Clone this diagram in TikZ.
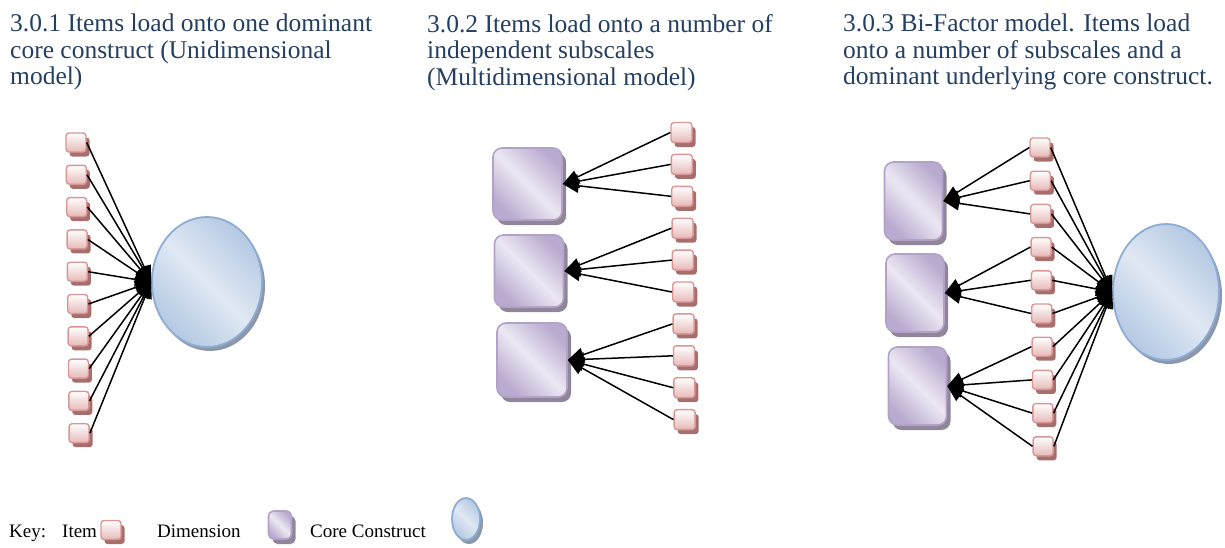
\documentclass[tikz,border=0pt]{standalone}
\usepackage{fontspec}
\setmainfont{Liberation Serif}
\usepackage{xcolor}
\usetikzlibrary{arrows.meta,positioning,shapes.geometric,shadows}
\definecolor{ttlblue}{HTML}{243F60}
\definecolor{itemline}{HTML}{D99694}
\definecolor{itemfill}{HTML}{E6B9B8}
\definecolor{itemshade}{HTML}{A66E6D}
\definecolor{dimline}{HTML}{B3A2C7}
\definecolor{dimdark}{HTML}{B9AACF}
\definecolor{dimlight}{HTML}{ECE8F2}
\definecolor{dimshade}{HTML}{918699}
\definecolor{coreline}{HTML}{8DADD5}
\definecolor{coredark}{HTML}{B4C9E3}
\definecolor{corelight}{HTML}{E0E8F3}
\definecolor{coreshade}{HTML}{8C97A8}
\tikzset{
  itembox/.style={draw=itemline, line width=1.4pt, rounded corners=3pt, minimum width=20pt, minimum height=19pt, inner sep=0pt, top color=white, bottom color=itemfill, drop shadow={shadow xshift=3.5pt, shadow yshift=-4.5pt, fill=itemshade, opacity=1}},
  dimbox/.style={draw=dimline, line width=1.6pt, rounded corners=9pt, inner sep=0pt, top color=dimdark, bottom color=dimdark, middle color=dimlight, shading angle=-45, drop shadow={shadow xshift=4pt, shadow yshift=-5pt, fill=dimshade, opacity=1}},
  corebox/.style={ellipse, draw=coreline, line width=1.8pt, inner sep=0pt, top color=coredark, bottom color=coredark, middle color=corelight, shading angle=-45, drop shadow={shadow xshift=3pt, shadow yshift=-4pt, fill=coreshade, opacity=1}},
  larr/.style={-{Triangle[length=16pt,width=14pt]}, line width=1.5pt},
  ttl/.style={anchor=north west, align=left, inner sep=0pt, text=ttlblue, font=\fontsize{25.5}{26.5}\selectfont},
  keytxt/.style={anchor=base west, inner sep=0pt, font=\fontsize{19}{22}\selectfont}
}
\begin{document}
\begin{tikzpicture}[x=1pt, y=-1pt]
\useasboundingbox (0,0) rectangle (1225,547);
% titles
\node[ttl] (t1) at (10,14) {3.0.1 Items load onto one dominant\\core construct (Unidimensional\\model)};
\node[ttl] (t2) at (427,14) {3.0.2 Items load onto a number of\\independent subscales\\(Multidimensional model)};
\node[ttl] (t3) at (843,14) {3.0.3 Bi-Factor model. Items load\\onto a number of subscales and a\\dominant underlying core construct.};
% unidimensional
\foreach \i in {1,...,10}
  \node[itembox] (ua\i) at ({76+0.35*(\i-1)},{142.5+32.3*(\i-1)}) {};
\node[corebox, minimum width=110pt, minimum height=130pt] (ucore) at (207,282) {};
\foreach \i in {1,...,10}
  \draw[larr] (ua\i.east) -- (ucore.west);
% multidimensional
\foreach \i in {1,...,10}
  \node[itembox, minimum width=21pt, minimum height=20pt] (ma\i) at ({681.5+0.35*(\i-1)},{132.5+31.9*(\i-1)}) {};
\node[dimbox, minimum width=69pt, minimum height=72pt] (md1) at (527.5,184) {};
\node[dimbox, minimum width=69pt, minimum height=72pt] (md2) at (529,271) {};
\node[dimbox, minimum width=70pt, minimum height=74pt] (md3) at (532,360) {};
\foreach \i/\j in {1/1,2/1,3/1,4/2,5/2,6/2,7/3,8/3,9/3,10/3}
  \draw[larr] (ma\i.west) -- (md\j.east);
% bi-factor
\foreach \i in {1,...,10}
  \node[itembox] (ba\i) at ({1040+0.35*(\i-1)},{147.5+33.2*(\i-1)}) {};
\node[dimbox, minimum width=58pt, minimum height=78pt] (bd1) at (913.5,201) {};
\node[dimbox, minimum width=58pt, minimum height=78pt] (bd2) at (915,293) {};
\node[dimbox, minimum width=58pt, minimum height=78pt] (bd3) at (917.5,386) {};
\node[corebox, minimum width=106pt, minimum height=136pt] (bcore) at (1166,292) {};
\foreach \i/\j in {1/1,2/1,3/1,4/2,5/2,6/2,7/3,8/3,9/3,10/3}
  \draw[larr] (ba\i.west) -- (bd\j.east);
\foreach \i in {1,...,10}
  \draw[larr] (ba\i.east) -- (bcore.west);
% key
\node[keytxt] (k0) at (9,537) {Key:};
\node[keytxt] (k1) at (62,537) {Item};
\node[itembox] (k2) at (111,530) {};
\node[keytxt] (k3) at (157,537) {Dimension};
\node[dimbox, minimum width=23pt, minimum height=28pt, rounded corners=5pt] (k4) at (280,525) {};
\node[keytxt] (k5) at (310,537) {Core Construct};
\node[corebox, minimum width=28pt, minimum height=42pt] (k6) at (466,519) {};
\end{tikzpicture}
\end{document}
